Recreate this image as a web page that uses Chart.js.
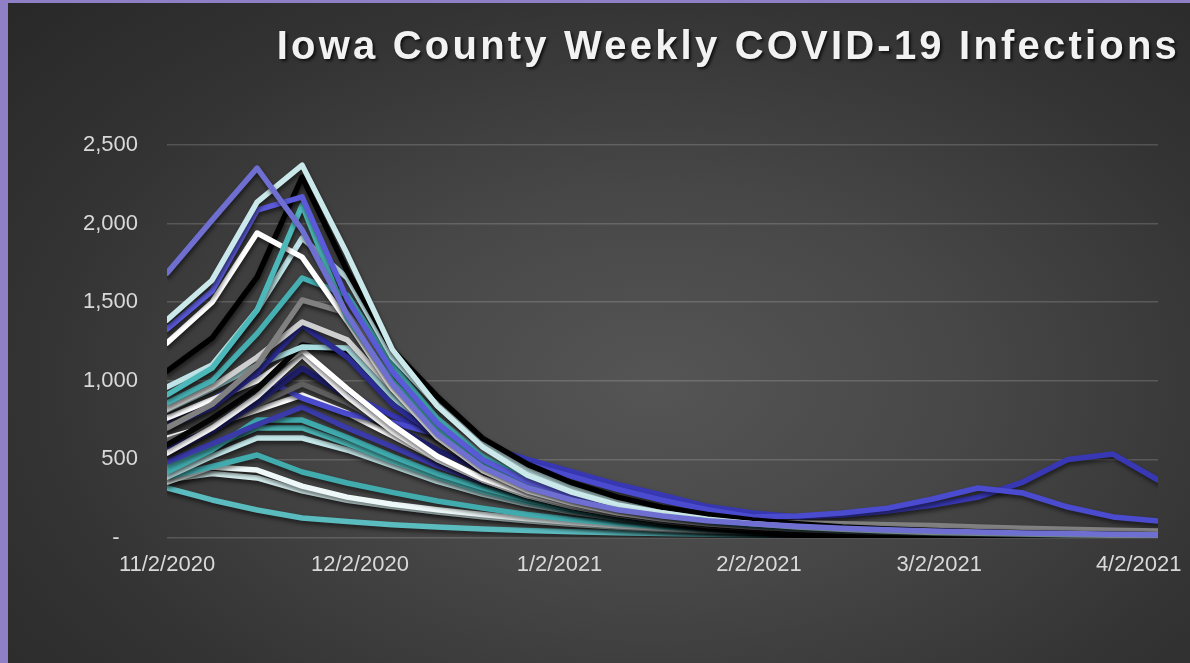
<!DOCTYPE html>
<html>
<head>
<meta charset="utf-8">
<script src="https://cdn.jsdelivr.net/npm/chart.js@4.4.0/dist/chart.umd.min.js"></script>
<style>
  html, body { margin: 0; padding: 0; }
  body {
    width: 1190px; height: 663px; overflow: hidden; position: relative;
    background: radial-gradient(ellipse 75% 85% at 55% 58%, #555 0%, #474747 35%, #333 70%, #282828 100%);
  }
  .edge-top { position: absolute; left: 0; top: 0; width: 1190px; height: 3px; background: #8f7fc6; }
  .edge-left { position: absolute; left: 0; top: 0; width: 8px; height: 663px; background: #8f7fc6; }
  #chart { position: absolute; left: 0; top: 0; }
</style>
</head>
<body>
<div class="edge-top"></div>
<div class="edge-left"></div>
<canvas id="chart" width="1190" height="663"></canvas>
<script>
// weekly points, days since 11/2/2020
const weekDays = [0, 7, 14, 21, 28, 35, 42, 49, 56, 63, 70, 77, 84, 91, 98, 105, 112, 119, 126, 133, 140, 147, 154];

// month ticks on the x axis
const tickDays = [0, 30, 61, 92, 120, 151];
const tickLabels = ['11/2/2020', '12/2/2020', '1/2/2021', '2/2/2021', '3/2/2021', '4/2/2021'];

const yTicks = [0, 500, 1000, 1500, 2000, 2500];

// county series, first one is drawn on top
const purple1 = [1685, 2022, 2353, 1960, 1420, 980, 660, 450, 320, 240, 180, 140, 110, 90, 75, 62, 52, 45, 38, 32, 28, 24, 20];
const cyan1   = [1387, 1640, 2137, 2372, 1806, 1200, 840, 580, 400, 290, 210, 160, 120, 90, 70, 55, 45, 35, 30, 25, 20, 18, 15];
const blue1   = [1329, 1570, 2086, 2170, 1520, 1060, 730, 500, 360, 270, 200, 150, 115, 90, 70, 55, 45, 38, 32, 27, 23, 20, 17];
const teal1   = [910, 1080, 1450, 2118, 1400, 1000, 700, 480, 340, 250, 185, 140, 105, 80, 62, 50, 40, 33, 27, 22, 18, 15, 12];
const white1  = [1240, 1500, 1940, 1787, 1380, 950, 640, 430, 300, 220, 160, 120, 90, 70, 55, 45, 36, 30, 25, 21, 18, 15, 12];
const black1  = [1062, 1272, 1660, 2296, 1700, 1200, 900, 636, 470, 350, 260, 195, 150, 115, 90, 70, 58, 48, 40, 34, 28, 24, 20];
const cyan2   = [960, 1100, 1450, 1908, 1654, 1150, 846, 600, 430, 320, 240, 180, 135, 100, 78, 62, 50, 40, 33, 27, 22, 18, 15];
const teal2   = [858, 1000, 1300, 1654, 1546, 1100, 760, 520, 370, 270, 200, 150, 110, 85, 65, 52, 42, 34, 28, 23, 19, 16, 13];
const gray1   = [700, 850, 1100, 1514, 1431, 1050, 760, 540, 400, 300, 230, 170, 130, 100, 95, 90, 85, 80, 70, 62, 55, 50, 45];
const lgray1  = [820, 960, 1150, 1374, 1260, 950, 700, 500, 360, 270, 200, 150, 110, 85, 65, 50, 40, 33, 27, 22, 18, 15, 12];
const navy1   = [706, 830, 1050, 1355, 1150, 850, 650, 480, 360, 270, 200, 150, 115, 90, 70, 55, 45, 37, 30, 25, 21, 18, 15];
const cyan3   = [814, 950, 1100, 1215, 1208, 900, 640, 440, 310, 230, 170, 130, 95, 72, 55, 44, 35, 28, 23, 19, 16, 13, 11];
const black2  = [592, 760, 950, 1228, 1180, 900, 680, 500, 380, 280, 210, 160, 120, 92, 72, 58, 47, 38, 31, 26, 22, 19, 16];
const white2  = [763, 880, 1000, 1196, 950, 720, 520, 380, 280, 210, 160, 120, 90, 68, 52, 40, 32, 26, 21, 17, 14, 12, 10];
const white3  = [540, 700, 900, 1164, 900, 680, 500, 370, 270, 200, 150, 110, 80, 60, 45, 35, 28, 22, 18, 15, 12, 10, 8];
const navy2   = [540, 680, 860, 1080, 900, 720, 560, 430, 330, 250, 190, 145, 110, 85, 66, 52, 42, 34, 28, 23, 19, 16, 13];
const gray2   = [620, 720, 850, 980, 860, 700, 540, 410, 310, 235, 180, 138, 105, 80, 62, 50, 40, 32, 26, 21, 17, 14, 12];
const blue2   = [760, 880, 1036, 890, 790, 735, 660, 560, 470, 390, 310, 240, 180, 134, 140, 159, 190, 248, 318, 286, 197, 134, 108];
const blue3   = [560, 700, 900, 1080, 920, 780, 660, 590, 500, 420, 340, 273, 200, 159, 134, 146, 172, 210, 260, 356, 500, 534, 369];
const white4  = [636, 718, 814, 909, 795, 650, 500, 370, 270, 200, 150, 112, 85, 65, 50, 39, 31, 25, 20, 16, 13, 11, 9];
const navy3   = [483, 600, 720, 833, 700, 580, 460, 360, 280, 215, 165, 127, 97, 75, 58, 46, 37, 30, 24, 20, 16, 13, 11];
const teal3   = [420, 560, 750, 750, 640, 520, 410, 320, 245, 185, 140, 105, 80, 60, 46, 36, 28, 22, 18, 15, 12, 10, 8];
const teal4   = [452, 580, 700, 700, 600, 490, 390, 300, 230, 175, 132, 100, 76, 58, 44, 34, 27, 21, 17, 14, 11, 9, 8];
const cyan4   = [388, 520, 636, 636, 560, 460, 360, 280, 215, 165, 125, 95, 72, 55, 42, 33, 26, 20, 16, 13, 11, 9, 7];
const teal5   = [388, 455, 528, 420, 350, 290, 235, 190, 150, 118, 92, 72, 56, 44, 35, 28, 22, 18, 15, 12, 10, 8, 7];
const white5  = [356, 452, 432, 330, 260, 215, 180, 150, 122, 98, 78, 62, 49, 39, 31, 25, 20, 16, 13, 11, 9, 8, 7];
const cyan5   = [370, 410, 382, 300, 240, 200, 165, 135, 110, 88, 70, 56, 45, 36, 29, 23, 19, 15, 12, 10, 8, 7, 6];
const teal6   = [318, 242, 178, 127, 105, 85, 70, 58, 48, 40, 33, 28, 24, 21, 19, 17, 15, 14, 13, 12, 11, 10, 10];

const series = [
  { data: purple1, color: '#6f6fd2' },
  { data: cyan1, color: '#cbe9ea' },
  { data: blue1, color: '#5b5bda' },
  { data: teal1, color: '#4db8ba' },
  { data: white1, color: '#ffffff' },
  { data: black1, color: '#000000' },
  { data: cyan2, color: '#bfe3e6' },
  { data: teal2, color: '#45afb2' },
  { data: gray1, color: '#808080' },
  { data: lgray1, color: '#cfcfcf' },
  { data: navy1, color: '#2c2c92' },
  { data: cyan3, color: '#a9dcdf' },
  { data: black2, color: '#050505' },
  { data: white2, color: '#ffffff' },
  { data: white3, color: '#f4f4f4' },
  { data: navy2, color: '#1f1f6a' },
  { data: gray2, color: '#5e5e5e' },
  { data: blue2, color: '#4b4bd0' },
  { data: blue3, color: '#3838b5' },
  { data: white4, color: '#ffffff' },
  { data: navy3, color: '#3a3aa8' },
  { data: teal3, color: '#3faaad' },
  { data: teal4, color: '#4cb5b5' },
  { data: cyan4, color: '#c3e6e8' },
  { data: teal5, color: '#42abae' },
  { data: white5, color: '#eef8f8' },
  { data: cyan5, color: '#d6eeee' },
  { data: teal6, color: '#5bbcbf' }
];

const FONT = "'Liberation Sans', Arial, sans-serif";

// soft drop shadow under the lines, like the office chart
const lineShadow = {
  id: 'lineShadow',
  beforeDatasetsDraw(chart) {
    const ctx = chart.ctx;
    ctx.save();
    ctx.shadowColor = 'rgba(0,0,0,0.55)';
    ctx.shadowBlur = 4;
    ctx.shadowOffsetX = 1;
    ctx.shadowOffsetY = 3;
  },
  afterDatasetsDraw(chart) {
    chart.ctx.restore();
  }
};

const titleText = {
  id: 'titleText',
  afterDraw(chart) {
    const ctx = chart.ctx;
    ctx.save();
    ctx.font = "bold 40px " + FONT;
    ctx.letterSpacing = '3.2px';
    ctx.textAlign = 'right';
    ctx.textBaseline = 'alphabetic';
    ctx.shadowColor = 'rgba(0,0,0,0.7)';
    ctx.shadowBlur = 3;
    ctx.shadowOffsetX = 2;
    ctx.shadowOffsetY = 2;
    ctx.fillStyle = '#f2f2f2';
    ctx.fillText('Iowa County Weekly COVID-19 Infections', 1180, 59);
    ctx.restore();
  }
};

new Chart(document.getElementById('chart'), {
  type: 'line',
  data: {
    datasets: series.map(s => ({
      data: weekDays.map((d, i) => ({ x: d, y: s.data[i] })),
      borderColor: s.color,
      backgroundColor: s.color,
      borderWidth: 5.5,
      borderCapStyle: 'round',
      borderJoinStyle: 'round',
      pointRadius: 0,
      tension: 0,
      fill: false
    }))
  },
  options: {
    responsive: false,
    animation: false,
    layout: { padding: { left: 0, right: 32, top: 145, bottom: 0 } },
    plugins: {
      legend: { display: false },
      tooltip: { enabled: false },
      title: { display: false }
    },
    scales: {
      x: {
        type: 'linear',
        min: weekDays[0],
        max: weekDays[weekDays.length - 1],
        afterBuildTicks: axis => { axis.ticks = tickDays.map(v => ({ value: v })); },
        afterFit: axis => {
          axis.height = 125;
          axis.paddingLeft = 0;
          axis.paddingRight = 0;
        },
        grid: { display: false, drawTicks: false },
        border: { display: false },
        ticks: {
          autoSkip: false,
          maxRotation: 0,
          padding: 14,
          color: '#d9d9d9',
          font: { family: FONT, size: 22 },
          callback: (v) => tickLabels[tickDays.indexOf(v)]
        }
      },
      y: {
        min: 0,
        max: 2500,
        afterBuildTicks: axis => { axis.ticks = yTicks.map(v => ({ value: v })); },
        afterFit: axis => {
          axis.width = 167;
          axis.paddingTop = 0;
          axis.paddingBottom = 0;
        },
        grid: { color: 'rgba(255,255,255,0.16)', lineWidth: 1.5, drawTicks: false },
        border: { display: false },
        ticks: {
          padding: 29,
          color: '#d9d9d9',
          font: { family: FONT, size: 22 },
          callback: v => v === 0 ? '-   ' : v.toLocaleString('en-US')
        }
      }
    }
  },
  plugins: [lineShadow, titleText]
});
</script>
</body>
</html>
